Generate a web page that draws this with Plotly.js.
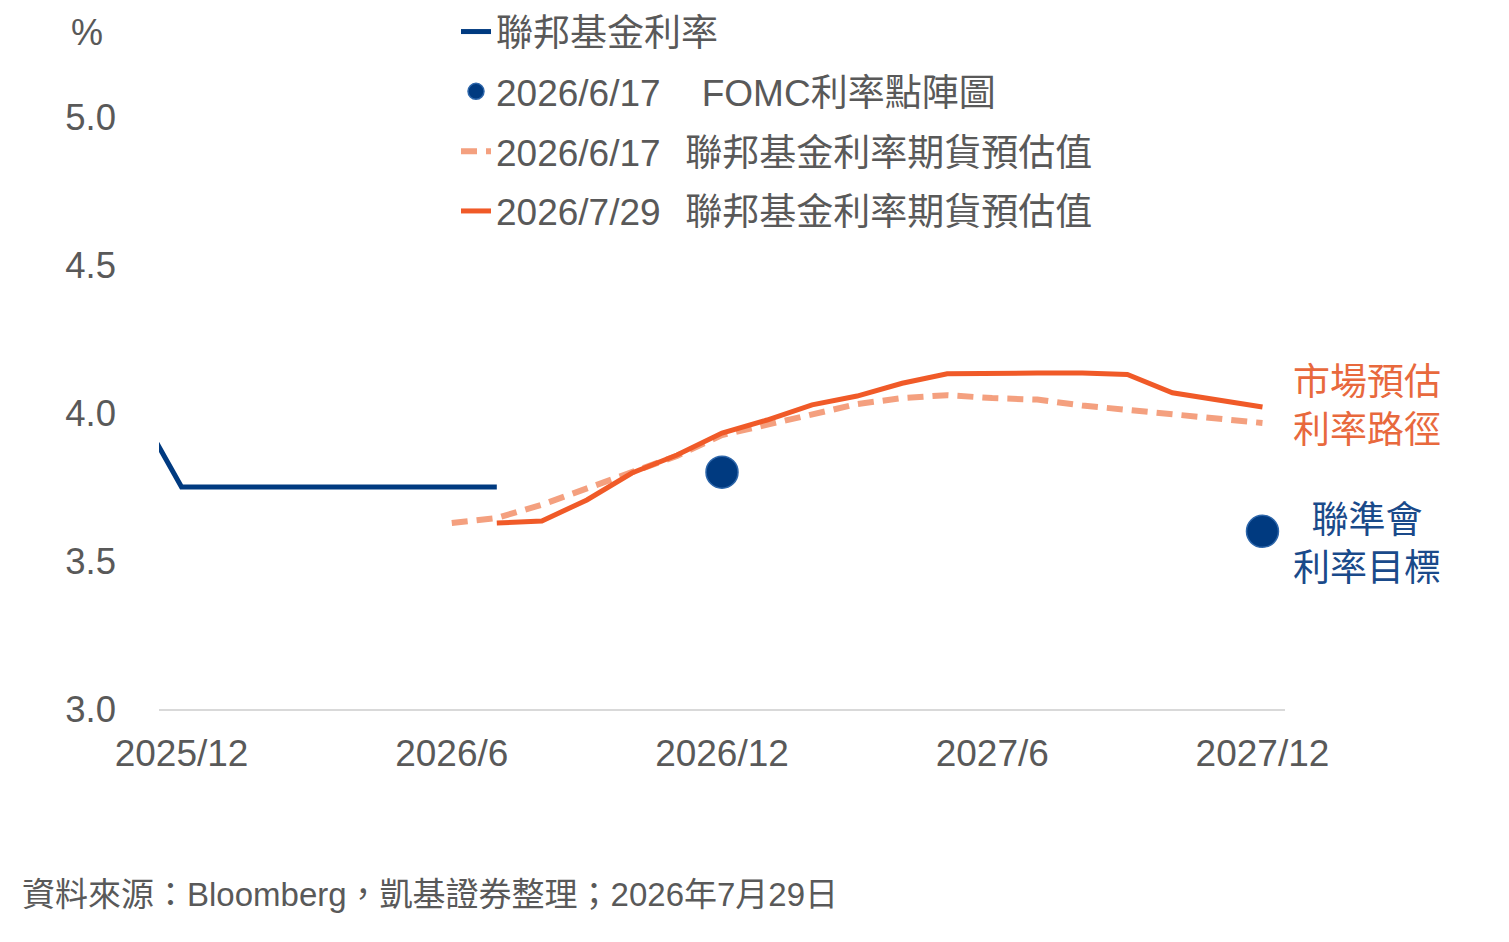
<!DOCTYPE html>
<html>
<head>
<meta charset="utf-8">
<script src="https://cdn.plot.ly/plotly-3.0.1.min.js"></script>
<style>html,body{margin:0;padding:0;background:#fff;}#chart{width:1509px;height:942px;}</style>
</head>
<body>
<div id="chart"></div>
<script>
// ---- data ----
const months = ["2025/11","2025/12","2026/1","2026/2","2026/3","2026/4","2026/5","2026/6","2026/7","2026/8","2026/9","2026/10","2026/11","2026/12","2027/1","2027/2","2027/3","2027/4","2027/5","2027/6","2027/7","2027/8","2027/9","2027/10","2027/11","2027/12"];
const tickLabels = ["2025/12","2026/6","2026/12","2027/6","2027/12"];

const fedMonths = ["2025/11","2025/12","2026/1","2026/2","2026/3","2026/4","2026/5","2026/6","2026/7"];
const fedRate   = [4.02, 3.75, 3.75, 3.75, 3.75, 3.75, 3.75, 3.75, 3.75];

const dotMonths = ["2026/12","2027/12"];
const dotRate   = [3.80, 3.60];

const futJunMonths = ["2026/6","2026/7","2026/8","2026/9","2026/10","2026/11","2026/12","2027/1","2027/2","2027/3","2027/4","2027/5","2027/6","2027/7","2027/8","2027/9","2027/10","2027/11","2027/12"];
const futJun = [3.628, 3.645, 3.69, 3.745, 3.80, 3.855, 3.925, 3.96, 4.00, 4.03, 4.05, 4.06, 4.05, 4.045, 4.025, 4.01, 4.00, 3.985, 3.966];

const futJulMonths = ["2026/7","2026/8","2026/9","2026/10","2026/11","2026/12","2027/1","2027/2","2027/3","2027/4","2027/5","2027/6","2027/7","2027/8","2027/9","2027/10","2027/11","2027/12"];
const futJul = [3.628, 3.635, 3.706, 3.797, 3.858, 3.932, 3.976, 4.027, 4.057, 4.10, 4.132, 4.135, 4.135, 4.135, 4.13, 4.068, 4.045, 4.02];

const yTicks = [3.0, 3.5, 4.0, 4.5, 5.0];

// ---- styles ----
const FONT = "Liberation Sans, Arial, Noto Sans CJK TC, sans-serif";
const GRAY = "#595959";
const NAVY = "#003A80";
const ORANGE = "#F05A28";
const SALMON = "#F4A07F";
const NB = "\u00a0";

const traces = [
  {x: fedMonths, y: fedRate, type: "scatter", mode: "lines", name: "聯邦基金利率",
   line: {color: NAVY, width: 5}, legendgroup: "a", legendrank: 1, hoverinfo: "skip"},
  {x: dotMonths, y: dotRate, type: "scatter", mode: "markers", name: "2026/6/17" + NB + NB + NB + NB + "FOMC利率點陣圖",
   marker: {color: NAVY, size: 32, line: {color: "#2D66AA", width: 1.5}}, legendgroup: "b", legendrank: 2, hoverinfo: "skip"},
  {x: futJunMonths, y: futJun, type: "scatter", mode: "lines", name: "2026/6/17\u2002\u2006聯邦基金利率期貨預估值",
   line: {color: SALMON, width: 6, dash: "16px,9px"}, legendgroup: "c", legendrank: 3, hoverinfo: "skip"},
  {x: futJulMonths, y: futJul, type: "scatter", mode: "lines", name: "2026/7/29\u2002\u2006聯邦基金利率期貨預估值",
   line: {color: ORANGE, width: 5}, legendgroup: "d", legendrank: 4, hoverinfo: "skip"}
];

const L = 159, R = 1285, T = 28, B = 709;
const px = v => (v - L) / (R - L);
const py = v => (B - v) / (B - T);

const layout = {
  width: 1509, height: 942,
  margin: {l: L, r: 1509 - R, t: T, b: 942 - B, pad: 0, autoexpand: false},
  paper_bgcolor: "#fff", plot_bgcolor: "#fff",
  font: {family: FONT, color: GRAY, size: 37},
  showlegend: true,
  legend: {
    x: px(456), y: py(1), xanchor: "left", yanchor: "top",
    font: {family: FONT, size: 37, color: GRAY},
    bgcolor: "rgba(0,0,0,0)", tracegroupgap: 8.7, traceorder: "grouped",
    itemsizing: "trace"
  },
  xaxis: {
    type: "category", categoryorder: "array", categoryarray: months,
    range: [0.5, 25.5], tickvals: tickLabels, ticktext: tickLabels,
    showgrid: false, zeroline: false, showline: true, linecolor: "#D9D9D9", linewidth: 2,
    ticks: "", tickfont: {family: FONT, size: 37, color: GRAY}, ticklabelstandoff: 11,
    fixedrange: true
  },
  yaxis: {
    range: [3.0, 5.3], tickvals: yTicks, tickformat: ".1f",
    showgrid: false, zeroline: false, showline: false, ticks: "",
    tickfont: {family: FONT, size: 36.5, color: GRAY}, ticklabelstandoff: 42,
    fixedrange: true
  },
  annotations: [
    {text: "%", xref: "paper", yref: "paper", x: px(87), y: py(32), xanchor: "center", yanchor: "middle",
     showarrow: false, font: {family: FONT, size: 36, color: GRAY}},
    {text: "市場預估<br>利率路徑", xref: "paper", yref: "paper", x: px(1291), y: py(406), xanchor: "left", yanchor: "middle",
     showarrow: false, align: "center", font: {family: FONT, size: 37, color: "#E8693D"}},
    {text: "聯準會<br>利率目標", xref: "paper", yref: "paper", x: px(1291), y: py(544), xanchor: "left", yanchor: "middle",
     showarrow: false, align: "center", font: {family: FONT, size: 37, color: "#1A4A8A"}},
    {text: "資料來源：Bloomberg，凱基證券整理；2026年7月29日", xref: "paper", yref: "paper", x: px(20), y: py(894),
     xanchor: "left", yanchor: "middle", showarrow: false, font: {family: FONT, size: 33, color: GRAY}}
  ]
};

Plotly.newPlot("chart", traces, layout, {displayModeBar: false, staticPlot: true});
</script>
</body>
</html>
